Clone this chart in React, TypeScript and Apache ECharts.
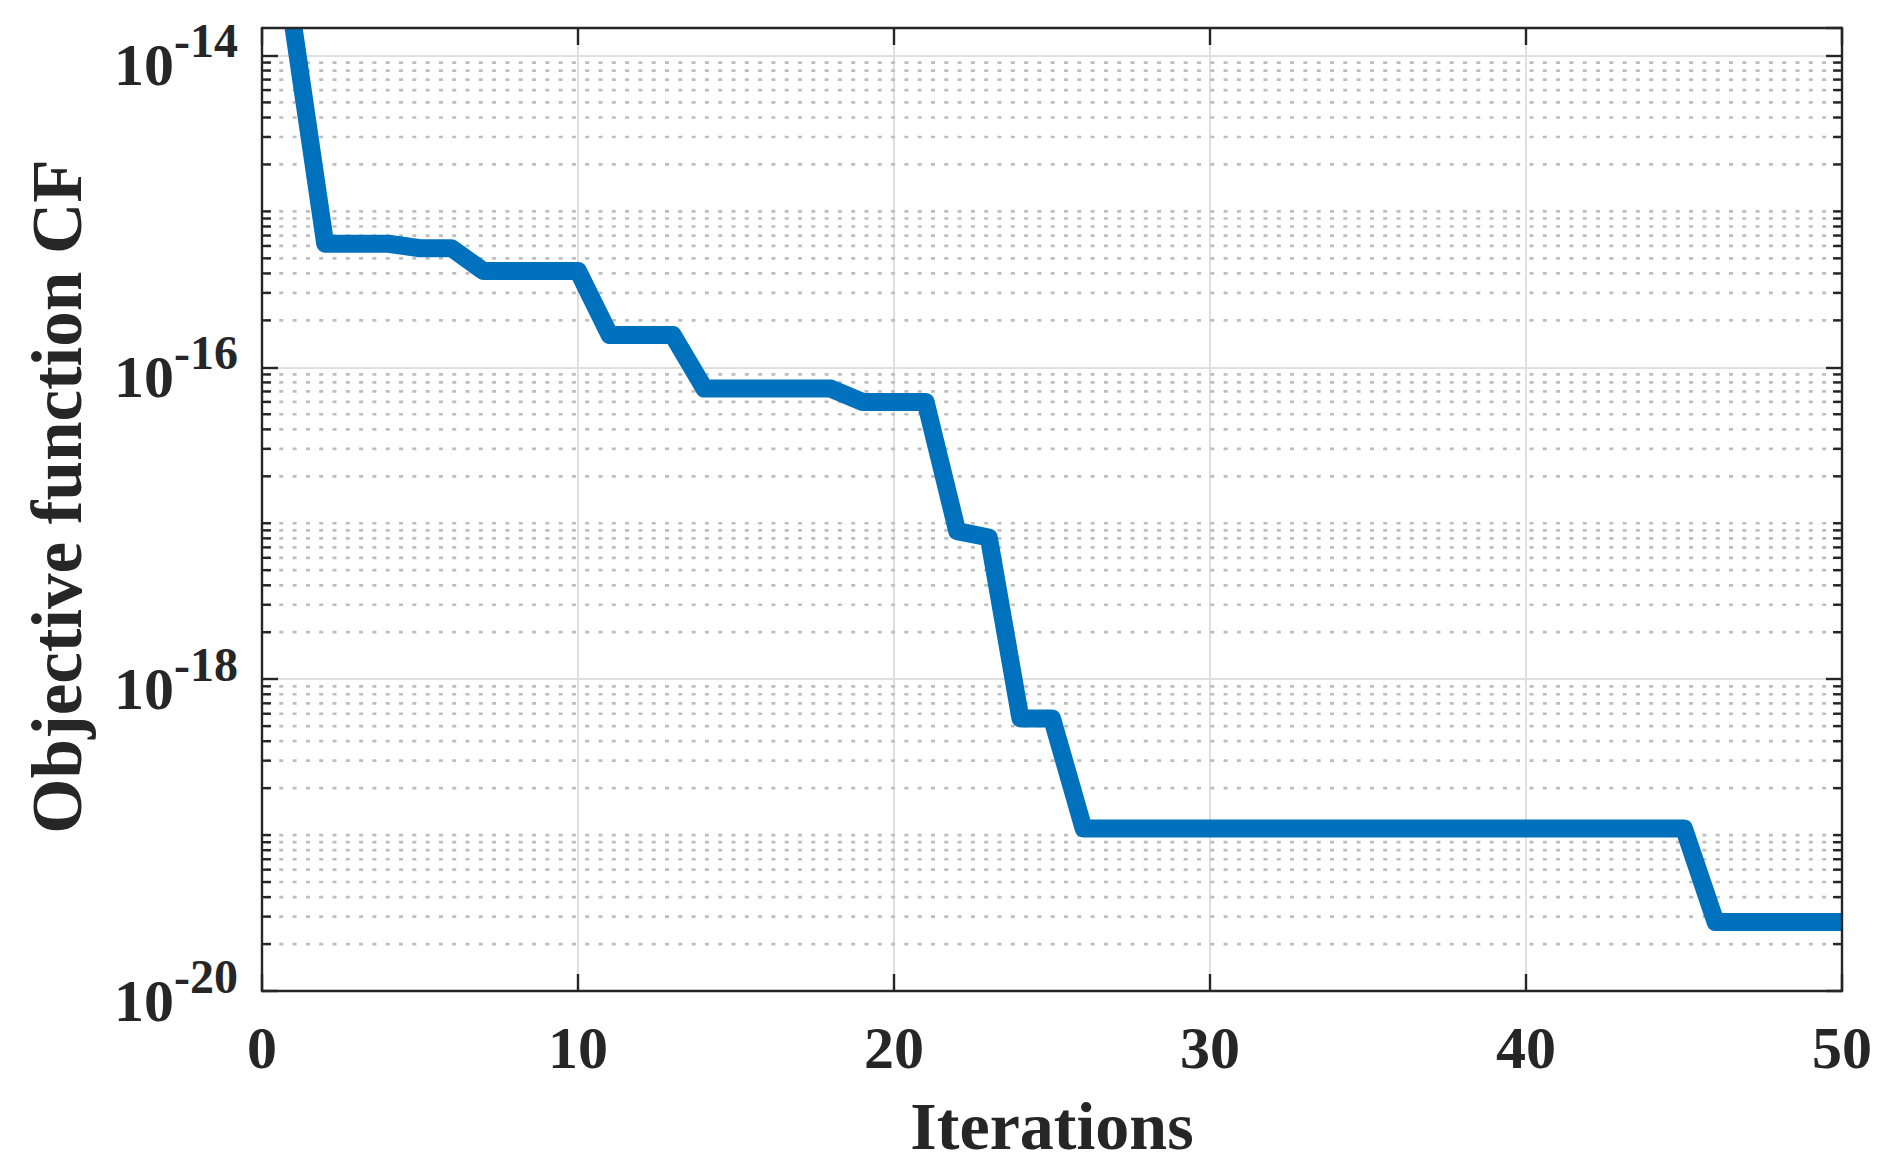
import { useEffect, useRef } from 'react';
import * as echarts from 'echarts';

// ---- data ----
const iterations = [
  1, 2, 3, 4, 5, 6, 7, 8, 9, 10,
  11, 12, 13, 14, 15, 16, 17, 18, 19, 20,
  21, 22, 23, 24, 25, 26, 27, 28, 29, 30,
  31, 32, 33, 34, 35, 36, 37, 38, 39, 40,
  41, 42, 43, 44, 45, 46, 47, 48, 49, 50,
];
const cfValues = [
  1.5e-14, 6.2e-16, 6.2e-16, 6.2e-16, 5.8e-16, 5.8e-16, 4.15e-16, 4.15e-16, 4.15e-16, 4.15e-16,
  1.61e-16, 1.61e-16, 1.61e-16, 7.3e-17, 7.3e-17, 7.3e-17, 7.3e-17, 7.3e-17, 6.0e-17, 6.0e-17,
  6.0e-17, 8.9e-18, 8.1e-18, 5.6e-19, 5.6e-19, 1.1e-19, 1.1e-19, 1.1e-19, 1.1e-19, 1.1e-19,
  1.1e-19, 1.1e-19, 1.1e-19, 1.1e-19, 1.1e-19, 1.1e-19, 1.1e-19, 1.1e-19, 1.1e-19, 1.1e-19,
  1.1e-19, 1.1e-19, 1.1e-19, 1.1e-19, 1.1e-19, 2.77e-20, 2.77e-20, 2.77e-20, 2.77e-20, 2.77e-20,
];
const xMin = 0;
const xMax = 50;
const xInterval = 10;
const yMin = 1e-20;
const yMax = 1.5e-14;
const yMajorExponents = [-20, -18, -16, -14];
const minorDecades = [-20, -19, -18, -17, -16, -15];
const minorMultipliers = [1, 2, 3, 4, 5, 6, 7, 8, 9];
const xAxisTitle = 'Iterations';
const yAxisTitle = 'Objective function CF';

const FONT = '"Liberation Serif", "Times New Roman", serif';
const INK = '#262626';
const LINE_BLUE = '#0072BD';
const MAJOR_GRID = '#dfdfdf';
const MINOR_GRID = '#bebebe';

export default function App() {
  const ref = useRef<HTMLDivElement>(null);

  useEffect(() => {
    if (!ref.current) return;
    const chart = echarts.init(ref.current, undefined, { renderer: 'svg' });

    const minorValues: number[] = [];
    for (const d of minorDecades) {
      for (const k of minorMultipliers) {
        if (k === 1 && yMajorExponents.includes(d)) continue;
        minorValues.push(k * Math.pow(10, d));
      }
    }

    const axisLine = { show: true, onZero: false, lineStyle: { color: INK, width: 2.4 } };

    const option: any = {
      animation: false,
      backgroundColor: '#ffffff',
      grid: { left: 262, right: 42, top: 28, bottom: 180 },
      xAxis: [
        {
          type: 'value',
          min: xMin,
          max: xMax,
          interval: xInterval,
          position: 'bottom',
          axisLine,
          axisTick: { show: true, inside: true, length: 17, lineStyle: { color: INK, width: 2.4 } },
          axisLabel: {
            margin: 27,
            fontFamily: FONT,
            fontWeight: 'bold',
            fontSize: 60,
            color: INK,
          },
          splitLine: {
            show: true,
            showMinLine: false,
            showMaxLine: false,
            lineStyle: { color: MAJOR_GRID, width: 2 },
          },
          name: xAxisTitle,
          nameLocation: 'middle',
          nameGap: 101,
          nameTextStyle: { fontFamily: FONT, fontWeight: 'bold', fontSize: 68, color: INK },
        },
        {
          type: 'value',
          min: xMin,
          max: xMax,
          interval: xInterval,
          position: 'top',
          z: 5,
          axisLine,
          axisTick: { show: true, inside: true, length: 17, lineStyle: { color: INK, width: 2.4 } },
          axisLabel: { show: false },
          splitLine: { show: false },
        },
      ],
      yAxis: [
        {
          type: 'log',
          logBase: 10,
          min: yMin,
          max: yMax,
          interval: 2,
          position: 'left',
          axisLine,
          axisTick: { show: true, inside: true, length: 16, lineStyle: { color: INK, width: 2.4 } },
          axisLabel: {
            margin: 24,
            showMaxLabel: false,
            padding: [20, 0, 0, 0],
            formatter: (v: number) => {
              const e = Math.round(Math.log10(v));
              return `{b|10}{s|${e}}`;
            },
            rich: {
              b: {
                fontFamily: FONT,
                fontWeight: 'bold',
                fontSize: 60,
                lineHeight: 60,
                color: INK,
                verticalAlign: 'bottom',
              },
              s: {
                fontFamily: FONT,
                fontWeight: 'bold',
                fontSize: 48,
                lineHeight: 48,
                color: INK,
                verticalAlign: 'bottom',
                padding: [0, 0, 31, 0],
              },
            },
          },
          splitLine: {
            show: true,
            showMinLine: false,
            showMaxLine: false,
            lineStyle: { color: MAJOR_GRID, width: 2 },
          },
          name: yAxisTitle,
          nameLocation: 'middle',
          nameGap: 170,
          nameRotate: 90,
          nameTextStyle: {
            fontFamily: FONT,
            fontWeight: 'bold',
            fontSize: 71,
            color: INK,
            padding: [0, 0, 0, 26],
          },
        },
        {
          type: 'log',
          logBase: 10,
          min: yMin,
          max: yMax,
          interval: 2,
          position: 'right',
          z: 5,
          axisLine,
          axisTick: { show: true, inside: true, length: 16, lineStyle: { color: INK, width: 2.4 } },
          axisLabel: { show: false },
          splitLine: { show: false },
        },
      ],
      series: [
        {
          type: 'custom',
          name: 'minor',
          xAxisIndex: 0,
          yAxisIndex: 0,
          z: 1,
          silent: true,
          encode: { x: 0, y: 1 },
          data: minorValues.map((v) => [xMin, v]),
          renderItem: (_params: any, api: any) => {
            const v = api.value(1);
            const p0 = api.coord([xMin, v]);
            const p1 = api.coord([xMax, v]);
            return {
              type: 'group',
              children: [
                {
                  type: 'line',
                  shape: { x1: p0[0] + 4, y1: p0[1], x2: p1[0], y2: p1[1] },
                  style: { stroke: MINOR_GRID, lineWidth: 2.7, lineDash: [4, 9.3] },
                },
                {
                  type: 'line',
                  shape: { x1: p0[0], y1: p0[1], x2: p0[0] + 9, y2: p0[1] },
                  style: { stroke: INK, lineWidth: 2.4 },
                },
                {
                  type: 'line',
                  shape: { x1: p1[0] - 9, y1: p1[1], x2: p1[0], y2: p1[1] },
                  style: { stroke: INK, lineWidth: 2.4 },
                },
              ],
            };
          },
        },
        {
          type: 'line',
          name: 'CF',
          xAxisIndex: 0,
          yAxisIndex: 0,
          z: 3,
          silent: true,
          showSymbol: false,
          symbol: 'none',
          clip: true,
          data: iterations.map((x, i) => [x, cfValues[i]]),
          lineStyle: { color: LINE_BLUE, width: 18, cap: 'butt', join: 'round' },
        },
      ],
    };

    chart.setOption(option);
    return () => chart.dispose();
  }, []);

  return (
    <div
      ref={ref}
      style={{ position: 'absolute', left: 0, top: 0, width: 1884, height: 1171, background: '#fff' }}
    />
  );
}
